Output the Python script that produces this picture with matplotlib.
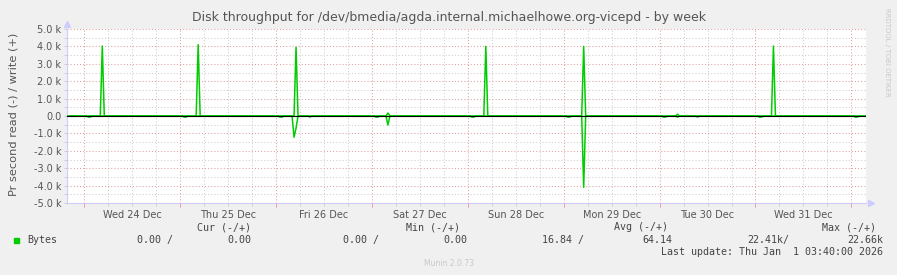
import matplotlib
matplotlib.use("Agg")
import matplotlib.pyplot as plt
import matplotlib.dates as mdates
from matplotlib.ticker import MultipleLocator, FuncFormatter, NullFormatter
import pandas as pd

# window shown by the week graph, rrd step is 30 minutes
t_start = pd.Timestamp("2025-12-23 19:40")
t_end = pd.Timestamp("2026-01-01 03:40")
samples = pd.date_range("2025-12-23 20:00", "2026-01-01 03:30", freq="30min")

# non-zero samples (bytes per second)
write_times = ["2025-12-24 04:30", "2025-12-25 04:30", "2025-12-26 05:00",
               "2025-12-27 04:00", "2025-12-28 04:30", "2025-12-29 05:00",
               "2025-12-30 04:30", "2025-12-31 04:30"]
write_bytes = [4020, 4100, 3950, 170, 4000, 4000, 100, 4020]

read_times = ["2025-12-24 01:00", "2025-12-24 01:30",
              "2025-12-25 01:00", "2025-12-25 01:30",
              "2025-12-26 01:00", "2025-12-26 01:30",
              "2025-12-26 04:30", "2025-12-26 05:00", "2025-12-26 08:30",
              "2025-12-27 01:00", "2025-12-27 01:30", "2025-12-27 04:00",
              "2025-12-28 01:00", "2025-12-28 01:30",
              "2025-12-29 01:00", "2025-12-29 01:30", "2025-12-29 05:00",
              "2025-12-30 01:00", "2025-12-30 01:30", "2025-12-30 04:30",
              "2025-12-30 09:30",
              "2025-12-31 01:00", "2025-12-31 01:30",
              "2026-01-01 01:00", "2026-01-01 01:30"]
read_bytes = [60, 60,
              60, 60,
              60, 60,
              1220, 700, 60,
              60, 60, 520,
              60, 60,
              60, 60, 4100,
              60, 60, 60,
              60,
              60, 60,
              60, 60]

title = "Disk throughput for /dev/bmedia/agda.internal.michaelhowe.org-vicepd - by week"
ylabel = "Pr second read (-) / write (+)"
legend_heads = ["Cur (-/+)", "Min (-/+)", "Avg (-/+)", "Max (-/+)"]
legend_vals = ["0.00 /", "0.00", "0.00 /", "0.00", "16.84 /", "64.14", "22.41k/", "22.66k"]
last_update = "Last update: Thu Jan  1 03:40:00 2026"

write = pd.Series(0.0, index=samples)
write[pd.to_datetime(write_times)] = write_bytes
read = pd.Series(0.0, index=samples)
read[pd.to_datetime(read_times)] = read_bytes

green = "#00cc00"
txt = "#555555"
W, H = 897, 275

fig = plt.figure(figsize=(W / 100, H / 100), dpi=100, facecolor="#f0f0f0")
ax = fig.add_axes([67 / W, 1 - 203 / H, (866 - 67) / W, (203 - 29) / H])
ax.set_facecolor("white")

ax.plot(samples, write.values, color=green, lw=1.1, zorder=3)
ax.plot(samples, -read.values, color=green, lw=1.1, zorder=3)
ax.axhline(0, color="black", lw=0.8, zorder=4)

ax.set_xlim(t_start, t_end)
ax.set_ylim(-5000, 5000)

# x axis: days in red, 6 hours in grey, label at noon
ax.xaxis.set_major_locator(mdates.DayLocator())
ax.xaxis.set_minor_locator(mdates.HourLocator(byhour=[6, 12, 18]))
ax.xaxis.set_major_formatter(NullFormatter())
def day_label(x, pos):
    d = mdates.num2date(x)
    return d.strftime("%a %d %b") if d.hour == 12 else ""
ax.xaxis.set_minor_formatter(FuncFormatter(day_label))

ax.yaxis.set_major_locator(MultipleLocator(1000))
ax.yaxis.set_minor_locator(MultipleLocator(500))
ax.yaxis.set_major_formatter(FuncFormatter(
    lambda v, pos: "0.0" if v == 0 else "%.1f k" % (v / 1000)))

ax.grid(which="major", color="#e0a0a0", lw=0.75, linestyle=(0, (1, 2)), zorder=1)
ax.grid(which="minor", color="#cfcfcf", lw=0.75, linestyle=(0, (1, 2)), zorder=1)

ax.tick_params(axis="x", which="major", length=3, width=0.7, color="#e0a0a0")
ax.tick_params(axis="x", which="minor", length=2, width=0.7, color="#cccccc",
               labelsize=7, labelcolor=txt, pad=3)
ax.tick_params(axis="y", which="both", length=2, width=0.7, color="#cccccc",
               labelsize=7, labelcolor=txt, pad=2)

for s in ["top", "right"]:
    ax.spines[s].set_visible(False)
for s in ["left", "bottom"]:
    ax.spines[s].set_color("#ccccff")
    ax.spines[s].set_linewidth(0.8)
ax.plot([0], [1.03], marker="^", ms=4, color="#ccccff", transform=ax.transAxes, clip_on=False)
ax.plot([1.006], [0], marker=">", ms=4, color="#ccccff", transform=ax.transAxes, clip_on=False)

fig.text(14 / W, 1 - 114 / H, ylabel, rotation=90, ha="center", va="center",
         fontsize=8.2, color=txt)
fig.text(449 / W, 1 - 18 / H, title, ha="center", va="center", fontsize=9, color=txt)
fig.text(887 / W, 1 - 52 / H, "RRDTOOL / TOBI OETIKER", rotation=270, ha="center",
         va="center", fontsize=5, color="#c8c8c8")

mono = dict(family="DejaVu Sans Mono", fontsize=7.2, color="#444444", va="center")
head_right = [251, 460, 668, 876]
for lbl, xr in zip(legend_heads, head_right):
    fig.text(xr / W, 1 - 227 / H, lbl, ha="right", **mono)
fig.patches.append(plt.Rectangle((14 / W, 1 - 243 / H), 5 / W, 5 / H,
                                 transform=fig.transFigure, color=green))
fig.text(27 / W, 1 - 240 / H, "Bytes", ha="left", **mono)
val_right = [173, 251, 379, 467, 584, 672, 789, 883]
for v, xr in zip(legend_vals, val_right):
    fig.text(xr / W, 1 - 240 / H, v, ha="right", **mono)
fig.text(883 / W, 1 - 252 / H, last_update, ha="right", **mono)
fig.text(449 / W, 1 - 264 / H, "Munin 2.0.73", ha="center", va="center",
         fontsize=5.5, color="#c8c8c8")

fig.savefig("out.png", dpi=100, facecolor=fig.get_facecolor())
